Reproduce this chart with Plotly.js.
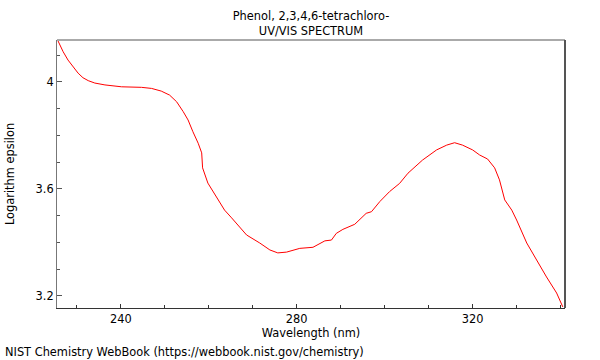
<!DOCTYPE html>
<html>
<head>
<meta charset="utf-8">
<script src="https://cdn.plot.ly/plotly-3.0.1.min.js"></script>
<style>html,body{margin:0;padding:0;background:#fff;}#chart{width:600px;height:360px;}</style>
</head>
<body>
<div id="chart"></div>
<script>
var wavelength = [225.6,226.9,228.0,229.2,230.3,231.4,232.6,234.1,236.4,240.2,244.7,247.0,249.2,251.1,252.7,254.2,255.3,256.4,257.6,258.4,258.6,259.8,261.8,263.6,265.2,268.6,271.6,273.9,275.7,277.7,280.7,283.7,286.4,287.9,289.0,290.5,293.2,295.8,297.0,298.9,301.1,303.4,305.3,308.6,311.8,314.1,315.9,317.7,320.0,321.6,323.4,325.0,326.1,327.3,328.9,330.0,332.3,334.5,336.8,339.1,340.5];
var logEpsilon = [4.158,4.113,4.082,4.057,4.033,4.016,4.005,3.996,3.989,3.982,3.980,3.976,3.966,3.951,3.926,3.889,3.858,3.814,3.771,3.735,3.679,3.622,3.570,3.521,3.492,3.428,3.398,3.372,3.361,3.364,3.378,3.382,3.406,3.409,3.434,3.449,3.468,3.509,3.515,3.553,3.590,3.621,3.659,3.708,3.746,3.764,3.773,3.764,3.746,3.727,3.712,3.679,3.634,3.559,3.521,3.484,3.398,3.335,3.271,3.211,3.159];
var titleText = "Phenol, 2,3,4,6-tetrachloro-<br>UV/VIS SPECTRUM";
var xTitle = "Wavelength (nm)";
var yTitle = "Logarithm epsilon";
var credit = "NIST Chemistry WebBook (https://webbook.nist.gov/chemistry)";

var font = {family: "DejaVu Sans, sans-serif", size: 11.4, color: "#000"};

Plotly.newPlot("chart", [{
  x: wavelength, y: logEpsilon, type: "scatter", mode: "lines",
  line: {color: "#ff0000", width: 1}, hoverinfo: "none"
}], {
  width: 600, height: 360,
  margin: {l: 57, r: 35, t: 40, b: 52, pad: 0},
  paper_bgcolor: "#fff", plot_bgcolor: "#fff",
  font: font,
  showlegend: false,
  title: {text: titleText, font: font,
          x: 0.5, xref: "paper", xanchor: "center", y: 1.058, yref: "paper", yanchor: "bottom"},
  xaxis: {
    range: [225.5, 341], showgrid: false, zeroline: false,
    showline: true, linecolor: "#333", linewidth: 1,
    ticks: "inside", ticklen: 4, tickcolor: "#333", tick0: 240, dtick: 40,
    minor: {dtick: 10, tick0: 240, ticks: "inside", ticklen: 3, tickcolor: "#333"},
    tickfont: font,
    title: {text: xTitle, font: font, standoff: 4}
  },
  yaxis: {
    range: [3.155, 4.157], showgrid: false, zeroline: false,
    showline: true, linecolor: "#777", linewidth: 1,
    ticks: "inside", ticklen: 5, tickcolor: "#555", tick0: 3.2, dtick: 0.4,
    minor: {dtick: 0.1, tick0: 3.2, ticks: "inside", ticklen: 3, tickcolor: "#555"},
    tickfont: font,
    title: {text: yTitle, font: font, standoff: 18}
  },
  shapes: [
    {type: "line", xref: "paper", yref: "paper", x0: 0, x1: 1, y0: 1, y1: 1, line: {color: "#aaa", width: 2}},
    {type: "line", xref: "paper", yref: "paper", x0: 1, x1: 1, y0: 0, y1: 1, line: {color: "#555", width: 2}}
  ],
  annotations: [{
    text: credit, xref: "paper", yref: "paper", x: -0.106, y: -0.164,
    xanchor: "left", yanchor: "middle", showarrow: false, font: font
  }]
}, {staticPlot: true, displayModeBar: false});
</script>
</body>
</html>
